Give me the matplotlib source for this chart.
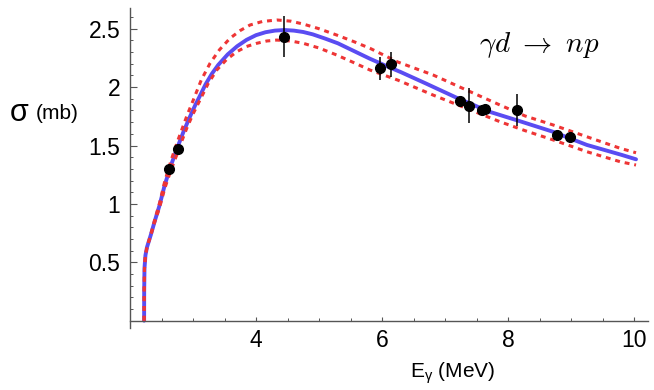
import matplotlib
matplotlib.use("Agg")
import matplotlib.pyplot as plt
from matplotlib.ticker import MultipleLocator, FixedLocator

# ---- data ----
# central theory curve
blue_x = [2.224, 2.225, 2.23, 2.245, 2.27, 2.33, 2.39, 2.47, 2.55, 2.65, 2.75, 2.85, 2.95,
          3.03, 3.1, 3.2, 3.3, 3.4, 3.55, 3.7, 3.85, 4.0, 4.15, 4.3, 4.45, 4.6, 4.75, 4.9,
          5.1, 5.3, 5.55, 5.8, 6.05, 6.3, 6.7, 7.2, 7.7, 8.2, 8.7, 9.25, 9.8, 10.03]
blue_y = [0.0, 0.25, 0.45, 0.56, 0.63, 0.734, 0.848, 0.99, 1.16, 1.33, 1.48, 1.62, 1.745,
          1.84, 1.915, 2.025, 2.115, 2.19, 2.28, 2.35, 2.405, 2.445, 2.47, 2.484, 2.489,
          2.484, 2.472, 2.452, 2.415, 2.375, 2.31, 2.245, 2.185, 2.128, 2.03, 1.905, 1.79,
          1.706, 1.62, 1.505, 1.42, 1.382]
# upper band
upper_x = [2.224, 2.225, 2.23, 2.245, 2.27, 2.33, 2.39, 2.47, 2.55, 2.65, 2.75, 2.82, 2.91,
           3.005, 3.13, 3.27, 3.42, 3.587, 3.75, 3.905, 4.1, 4.33, 4.55, 4.75, 5.0, 5.28,
           5.55, 5.81, 6.25, 6.81, 7.34, 7.87, 8.27, 8.72, 9.25, 9.78, 10.03]
upper_y = [0.0, 0.25, 0.45, 0.56, 0.63, 0.74, 0.86, 1.01, 1.19, 1.37, 1.53, 1.633, 1.765,
           1.89, 2.06, 2.204, 2.32, 2.418, 2.485, 2.532, 2.562, 2.575, 2.565, 2.54, 2.50,
           2.446, 2.39, 2.332, 2.215, 2.104, 1.975, 1.847, 1.753, 1.675, 1.575, 1.476, 1.438]
# lower band
lower_x = [2.224, 2.225, 2.23, 2.245, 2.27, 2.33, 2.39, 2.47, 2.55, 2.65, 2.75, 2.82, 2.9,
           3.0, 3.111, 3.24, 3.376, 3.53, 3.693, 3.85, 4.01, 4.17, 4.33, 4.55, 4.75, 5.0,
           5.28, 5.55, 5.81, 6.25, 6.81, 7.34, 7.87, 8.27, 8.72, 9.25, 9.78, 10.03]
lower_y = [0.0, 0.25, 0.45, 0.56, 0.63, 0.73, 0.84, 0.97, 1.13, 1.29, 1.43, 1.535, 1.647,
           1.77, 1.89, 2.03, 2.146, 2.235, 2.303, 2.348, 2.375, 2.395, 2.403, 2.395, 2.375,
           2.335, 2.275, 2.21, 2.146, 2.06, 1.932, 1.818, 1.704, 1.627, 1.547, 1.447, 1.361,
           1.333]
# experimental points
exp_x = [2.614, 2.762, 4.45, 5.968, 6.138, 7.24, 7.378, 7.59, 7.63, 8.14, 8.78, 8.98]
exp_y = [1.30, 1.473, 2.43, 2.161, 2.195, 1.884, 1.841, 1.804, 1.812, 1.804, 1.59, 1.573]
exp_err = [0.0, 0.0, 0.175, 0.10, 0.105, 0.0, 0.15, 0.0, 0.0, 0.135, 0.0, 0.0]

x_ticks = [4, 6, 8, 10]
x_ticklabels = ["4", "6", "8", "10"]
y_ticks = [0.5, 1.0, 1.5, 2.0, 2.5]
y_ticklabels = ["0.5", "1", "1.5", "2", "2.5"]

plt.rcParams['font.family'] = ['Liberation Sans', 'DejaVu Sans']
plt.rcParams['mathtext.fontset'] = 'custom'
plt.rcParams['mathtext.rm'] = 'Liberation Sans'
plt.rcParams['mathtext.it'] = 'Liberation Sans:italic'

fig = plt.figure(figsize=(6.54, 3.90), dpi=100)
ax = fig.add_axes([130/654, (390-327.7)/390, (648-130)/654, (327.7-8.3)/390])

ax.plot(blue_x, blue_y, color='#5a4cf2', lw=2.8, solid_capstyle='round',
        solid_joinstyle='round', zorder=2)
ax.plot(upper_x, upper_y, color='#ee3535', lw=2.2, ls=(0, (1.6, 1.6)), zorder=3)
ax.plot(lower_x, lower_y, color='#ee3535', lw=2.2, ls=(0, (1.6, 1.6)), zorder=3)
ax.errorbar(exp_x, exp_y, yerr=exp_err, fmt='o', color='black', ms=7, elinewidth=1.1,
            capsize=0, zorder=4)

ax.set_xlim(2.0, 10.22)
ax.set_ylim(-0.06, 2.675)

for s in ['top', 'right']:
    ax.spines[s].set_visible(False)
ax.spines['bottom'].set_position(('data', 0))
for s in ['left', 'bottom']:
    ax.spines[s].set_color('#555555')
    ax.spines[s].set_linewidth(1.0)

ax.xaxis.set_major_locator(FixedLocator(x_ticks))
ax.set_xticklabels(x_ticklabels)
ax.xaxis.set_minor_locator(MultipleLocator(0.5))
ax.yaxis.set_major_locator(FixedLocator(y_ticks))
ax.set_yticklabels(y_ticklabels)
ax.yaxis.set_minor_locator(FixedLocator([i / 10 for i in range(1, 27)]))

ax.tick_params(axis='x', which='major', direction='in', length=3, width=0.8,
               color='#555555', labelsize=16.5, pad=6)
ax.tick_params(axis='x', which='minor', direction='in', length=2, width=0.7, color='#555555')
ax.tick_params(axis='y', which='major', direction='in', length=5, width=0.8,
               color='#555555', labelsize=16.5, pad=7)
ax.tick_params(axis='y', which='minor', direction='in', length=2.5, width=0.7, color='#555555')

fig.text(19/654, 1 - 113/390, "σ", fontsize=22, ha='center', va='center')
fig.text(36/654, 1 - 113/390, "(mb)", fontsize=15, ha='left', va='center')
fig.text(453/654, 1 - 373/390, r"E$_{\mathrm{\gamma}}$ (MeV)", fontsize=15,
         ha='center', va='center')
fig.text(539/654, 1 - 45/390, r"$\gamma d\ \rightarrow\ np$", fontsize=21,
         ha='center', va='center', math_fontfamily='cm')

fig.savefig("out.png", dpi=100)
